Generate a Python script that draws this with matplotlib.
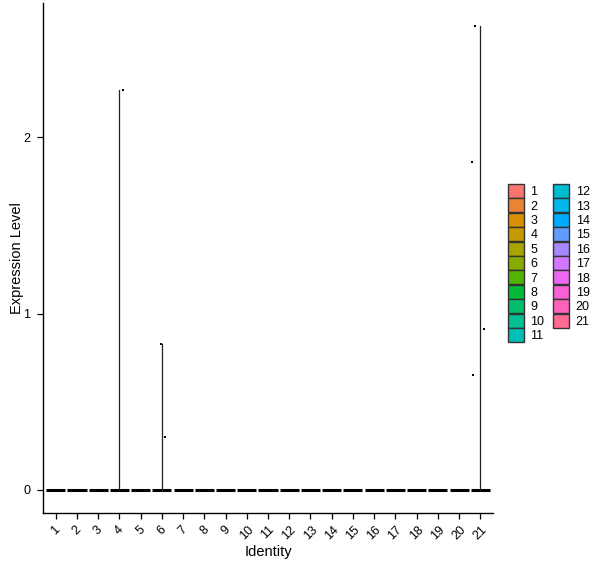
import numpy as np
import matplotlib
matplotlib.use("Agg")
import matplotlib.pyplot as plt
from matplotlib.patches import Patch

plt.rcParams["font.family"] = ["Liberation Sans", "DejaVu Sans"]

# clusters / identities
idents = [str(i) for i in range(1, 22)]

# non-zero expression values per identity (all other cells are 0)
nonzero = {
    "4": [2.27],
    "6": [0.83, 0.30],
    "21": [2.63, 1.86, 0.91, 0.65],
}
# horizontal jitter of those points
jitter = {
    "4": [0.19],
    "6": [-0.03, 0.16],
    "21": [-0.27, -0.40, 0.17, -0.33],
}
y_ticks = [0, 1, 2]


def hue_pal(n, c=100, l=65):
    # ggplot2 default hue palette (polar Luv -> sRGB)
    hues = np.linspace(15, 375, n + 1)[:n]
    Xn, Yn, Zn = 95.047, 100.0, 108.883
    un = 4 * Xn / (Xn + 15 * Yn + 3 * Zn)
    vn = 9 * Yn / (Xn + 15 * Yn + 3 * Zn)
    out = []
    for h in hues:
        u = c * np.cos(np.radians(h))
        v = c * np.sin(np.radians(h))
        Y = Yn * ((l + 16) / 116) ** 3
        up = u / (13 * l) + un
        vp = v / (13 * l) + vn
        X = 9 * Y * up / (4 * vp)
        Z = Y * (12 - 3 * up - 20 * vp) / (4 * vp)
        X, Y, Z = X / 100, Y / 100, Z / 100
        r = 3.2404542 * X - 1.5371385 * Y - 0.4985314 * Z
        g = -0.9692660 * X + 1.8760108 * Y + 0.0415560 * Z
        b = 0.0556434 * X - 0.2040259 * Y + 1.0572252 * Z
        rgb = []
        for ch in (r, g, b):
            ch = 12.92 * ch if ch <= 0.0031308 else 1.055 * ch ** (1 / 2.4) - 0.055
            rgb.append(min(max(ch, 0), 1))
        out.append(tuple(rgb))
    return out


colors = hue_pal(len(idents))

fig = plt.figure(figsize=(6.0, 5.68), dpi=100)
ax = fig.add_axes([0.0717, 0.0968, 0.75, 0.8979])

for i, name in enumerate(idents, start=1):
    vals = nonzero.get(name, [])
    # flat violin at zero
    ax.plot([i - 0.45, i + 0.45], [0, 0], color="black", lw=2.2,
            solid_capstyle="butt", zorder=2)
    if vals:
        ax.plot([i, i], [0, max(vals)], color="#222222", lw=0.9, zorder=2)
        xs = [i + j for j in jitter[name]]
        ax.scatter(xs, vals, s=3, marker="s", color="black", lw=0, zorder=3)

ymax = max(max(v) for v in nonzero.values())
pad = ymax * 0.05
ax.set_ylim(-pad, ymax + pad)
ax.set_xlim(0.4, len(idents) + 0.6)

ax.set_xticks(range(1, len(idents) + 1))
ax.set_xticklabels(idents, rotation=45, ha="center", va="top", fontsize=9)
ax.set_yticks(y_ticks)
ax.set_yticklabels([str(t) for t in y_ticks], fontsize=9)
ax.tick_params(length=4, width=0.9, color="black", labelcolor="black")
ax.tick_params(axis="y", pad=5)

for side in ("top", "right"):
    ax.spines[side].set_visible(False)
for side in ("left", "bottom"):
    ax.spines[side].set_linewidth(1.0)
    ax.spines[side].set_color("black")

ax.set_xlabel("Identity", fontsize=10.5, labelpad=2)
ax.set_ylabel("Expression Level", fontsize=10.5)
ax.yaxis.set_label_coords(-0.042, 0.5)

handles = [Patch(facecolor=c, edgecolor="#333333", lw=1.0, label=n)
           for c, n in zip(colors, idents)]
ax.legend(handles=handles, ncol=2, frameon=False, fontsize=9,
          loc="center left", bbox_to_anchor=(1.022, 0.49),
          handlelength=1.3, handleheight=1.34, labelspacing=0.02,
          columnspacing=0.7, handletextpad=0.5, borderaxespad=0)

fig.savefig("out.png", dpi=100)
